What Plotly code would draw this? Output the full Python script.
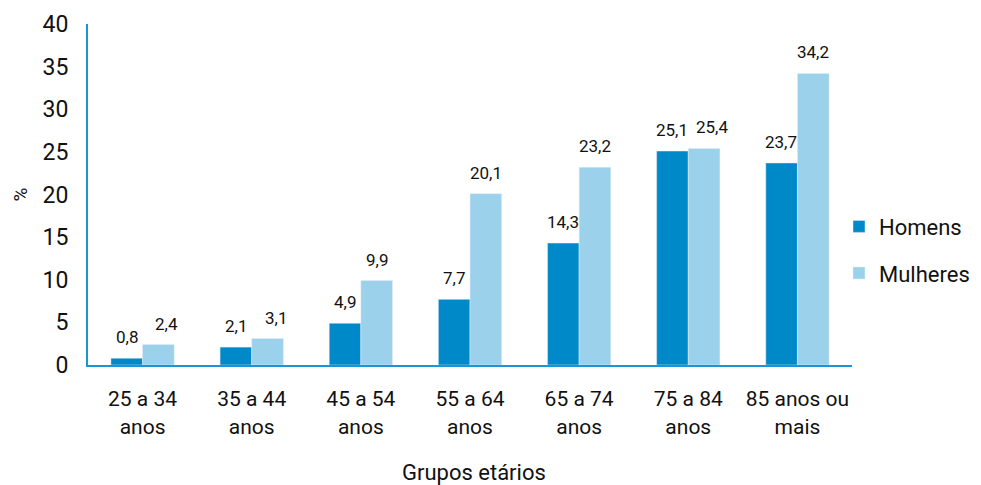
import plotly.graph_objects as go

categories = ["25 a 34<br>anos", "35 a 44<br>anos", "45 a 54<br>anos", "55 a 64<br>anos",
              "65 a 74<br>anos", "75 a 84<br>anos", "85 anos ou<br>mais"]
homens = [0.8, 2.1, 4.9, 7.7, 14.3, 25.1, 23.7]
mulheres = [2.4, 3.1, 9.9, 20.1, 23.2, 25.4, 34.2]
y_ticks = [0, 5, 10, 15, 20, 25, 30, 35, 40]

C_H = "#0089C9"
C_M = "#9BD1EA"
AXIS = "#1A95D5"
FONT = "Roboto"
TXT = "#111111"

fig = go.Figure()
fig.add_trace(go.Bar(name="Homens", x=categories, y=homens, marker_color=C_H, legendgroup="h"))
fig.add_trace(go.Bar(name="Mulheres", x=categories, y=mulheres, marker_color=C_M, legendgroup="m"))

def fmt(v):
    return f"{v:.1f}".replace(".", ",")

anns = []
for c, h, m in zip(categories, homens, mulheres):
    close = abs(h - m) < 2
    anns.append(dict(x=c, y=h, text=fmt(h), xref="x", yref="y", showarrow=False,
                     xshift=-16, yshift=21, font=dict(size=17, color=TXT, family=FONT)))
    anns.append(dict(x=c, y=m, text=fmt(m), xref="x", yref="y", showarrow=False,
                     xshift=24 if close else 16, yshift=21,
                     font=dict(size=17, color=TXT, family=FONT)))

anns.append(dict(text="Grupos etários", xref="paper", yref="paper", x=0.505, y=-0.314,
                 showarrow=False, xanchor="center", yanchor="middle",
                 font=dict(size=22, color=TXT, family=FONT)))
anns.append(dict(text="%", xref="paper", yref="paper", x=-0.089, y=0.5,
                 showarrow=False, xanchor="center", yanchor="middle", textangle=-90,
                 font=dict(size=19, color=TXT, family=FONT)))

# page body has an 8px margin, so the figure is sized to fit the 981x485 window
fig.update_layout(
    width=973, height=477,
    margin=dict(l=80, r=129, t=16, b=120, autoexpand=False),
    paper_bgcolor="white", plot_bgcolor="white",
    barmode="group", bargap=0.42, bargroupgap=0,
    font=dict(family=FONT, color=TXT),
    annotations=anns,
    legend=dict(x=0.983, y=0.337, xanchor="left", yanchor="middle",
                font=dict(size=22, family=FONT, color=TXT), itemwidth=30, tracegroupgap=15),
    xaxis=dict(showline=True, linecolor=AXIS, linewidth=2, ticks="", showgrid=False,
               automargin=False, ticklabelstandoff=14,
               tickfont=dict(size=21, family=FONT, color=TXT)),
    yaxis=dict(range=[0, 40], tickvals=y_ticks, showline=True, linecolor=AXIS, linewidth=2,
               ticks="", showgrid=False, zeroline=False, automargin=False,
               tickfont=dict(size=23, family=FONT, color=TXT), ticklabelstandoff=13),
)

fig.write_html("out.html")
